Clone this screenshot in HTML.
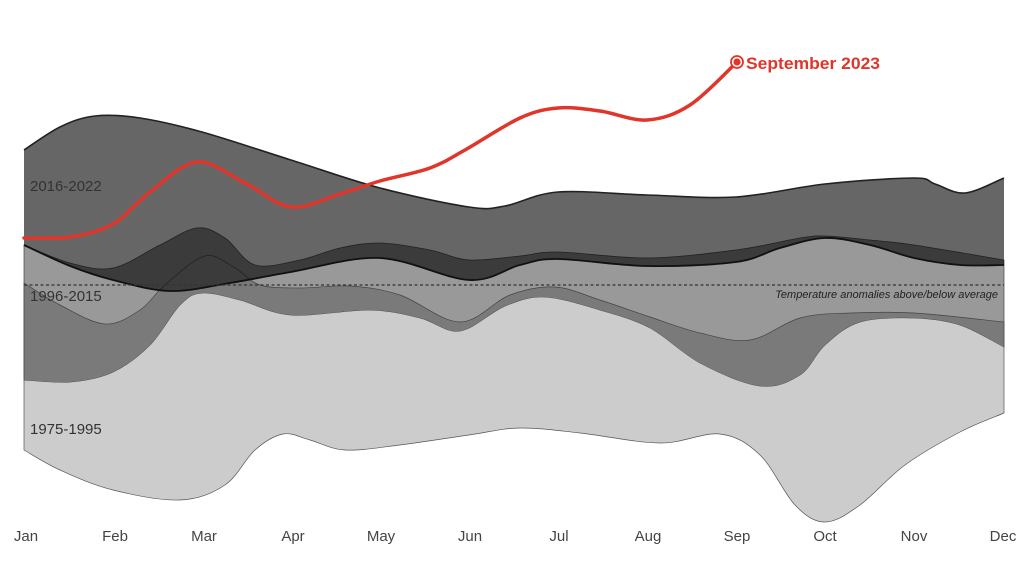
<!DOCTYPE html>
<html><head><meta charset="utf-8"><style>
html,body{margin:0;padding:0;background:#fff;}
svg{display:block;font-family:"Liberation Sans",sans-serif;}
</style></head><body>
<svg id="s" width="1024" height="576" viewBox="0 0 1024 576" xmlns="http://www.w3.org/2000/svg">
<defs>
<clipPath id="c96"><path id="p96c"/></clipPath>
<clipPath id="c16"><path id="p16c"/></clipPath>
</defs>
<path id="b75" fill="#cccccc" stroke="#555" stroke-width="0.7"/>
<path id="b96" fill="#999999" stroke="#444" stroke-width="0.7"/>
<g clip-path="url(#c96)"><path id="o1" fill="#7a7a7a" stroke="#444" stroke-width="0.7"/></g>
<path id="b16" fill="#666666"/>
<g clip-path="url(#c16)"><path id="o2" fill="#3b3b3b" stroke="#222" stroke-width="0.8"/><path id="o3" fill="#3b3b3b" stroke="#222" stroke-width="0.8"/></g>
<path id="lA" fill="none" stroke="#222" stroke-width="1.6"/>
<path id="lB" fill="none" stroke="#111" stroke-width="1.8"/>
<line x1="24" y1="285" x2="1004" y2="285" stroke="#333" stroke-width="1.2" stroke-dasharray="3,2.5"/>
<text x="998" y="298" font-size="11" font-style="italic" fill="#222" text-anchor="end">Temperature anomalies above/below average</text>
<text x="30" y="191" font-size="15" fill="#333">2016-2022</text>
<text x="30" y="301" font-size="15" fill="#333">1996-2015</text>
<text x="30" y="434" font-size="15" fill="#333">1975-1995</text>
<path id="red" fill="none" stroke="#e0352b" stroke-width="3.5" stroke-linecap="round"/>
<circle cx="737" cy="62" r="6" fill="#fff" stroke="#e0352b" stroke-width="1.8"/>
<circle cx="737" cy="62" r="3.6" fill="#e0352b"/>
<text x="746" y="69" font-size="17" font-weight="bold" fill="#e0352b" textLength="134" lengthAdjust="spacingAndGlyphs">September 2023</text>
<g font-size="15" fill="#444" text-anchor="middle">
<text x="26" y="541">Jan</text><text x="115" y="541">Feb</text><text x="204" y="541">Mar</text><text x="293" y="541">Apr</text><text x="381" y="541">May</text><text x="470" y="541">Jun</text><text x="559" y="541">Jul</text><text x="648" y="541">Aug</text><text x="737" y="541">Sep</text><text x="825" y="541">Oct</text><text x="914" y="541">Nov</text><text x="1003" y="541">Dec</text>
</g>
</svg>
<script>
function cr(p,move){var d=move?"M"+p[0][0]+","+p[0][1]:"L"+p[0][0]+","+p[0][1];
for(var i=0;i<p.length-1;i++){var p0=p[i-1]||p[i],p1=p[i],p2=p[i+1],p3=p[i+2]||p2;
d+="C"+(p1[0]+(p2[0]-p0[0])/6).toFixed(1)+","+(p1[1]+(p2[1]-p0[1])/6).toFixed(1)+" "+(p2[0]-(p3[0]-p1[0])/6).toFixed(1)+","+(p2[1]-(p3[1]-p1[1])/6).toFixed(1)+" "+p2[0]+","+p2[1];}
return d;}
function band(top,bot){return cr(top,true)+cr(bot.slice().reverse(),false)+"Z";}
var A=[[24,150],[60,127],[95,116],[140,118],[202,132],[291,160],[380,188],[469,207],[505,206],[558,192],[647,195],[736,197],[825,184],[914,178],[935,184],[965,193],[1004,178]];
var B=[[24,245],[70,266],[113,280],[170,291],[230,283],[291,272],[380,258],[469,280],[520,265],[558,259],[647,266],[736,262],[780,248],[825,238],[870,245],[914,258],[960,265],[1004,265]];
var C=[[24,245],[70,263],[113,268],[160,245],[197,228],[225,238],[255,265],[300,260],[340,248],[380,243],[430,250],[469,260],[520,256],[558,252],[647,258],[736,250],[800,238],[825,236],[870,240],[914,245],[1004,260]];
var E=[[24,380],[70,382],[113,372],[150,345],[180,305],[202,293],[240,300],[291,315],[370,310],[420,318],[460,331],[505,306],[545,297],[600,310],[650,328],[700,363],[760,386],[800,375],[825,345],[860,322],[914,318],[960,325],[1004,347]];
var D=[[24,283],[60,305],[105,324],[140,310],[165,285],[205,256],[235,268],[260,285],[300,288],[350,286],[400,295],[460,322],[510,295],[555,287],[600,300],[650,317],[700,333],[750,340],[800,318],[850,313],[914,313],[1004,322]];
var F=[[24,450],[60,470],[113,490],[180,500],[225,485],[255,450],[283,434],[310,440],[345,450],[400,445],[469,435],[520,428],[580,433],[660,443],[720,434],[760,455],[795,505],[825,522],[860,505],[905,465],[960,432],[1004,413]];
var R=[[24,238],[70,237],[113,224],[150,192],[197,162],[245,183],[291,207],[340,194],[380,181],[430,168],[465,150],[520,118],[558,108],[600,111],[647,120],[690,105],[737,62]];
var b75=band(D,F),b96=band(C,E),b16=band(A,B);
function s(id,d){document.getElementById(id).setAttribute("d",d);}
s("b75",b75);s("b96",b96);s("p96c",b96);s("o1",b75);s("b16",b16);s("p16c",b16);s("o2",b96);s("o3",b75);
s("lA",cr(A,true));s("lB",cr(B,true));s("red",cr(R,true));
</script>
</body></html>
